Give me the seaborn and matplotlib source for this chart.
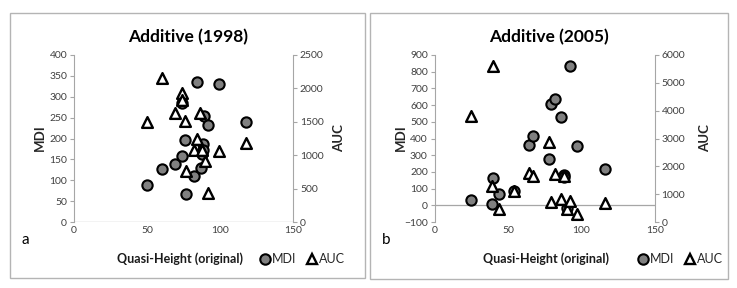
import matplotlib
matplotlib.use("Agg")
import matplotlib.pyplot as plt
import seaborn as sns
import pandas as pd
from matplotlib.patches import Rectangle
from matplotlib.lines import Line2D

# ---- data ----
h98_mdi = [50, 60, 69, 74, 74, 76, 77, 82, 84, 87, 88.5, 88, 88.3, 89, 92, 99, 118]
mdi98 = [88, 126, 138, 158, 284, 196, 68, 110, 336, 130, 186, 164, 172, 254, 232, 330, 240]
h98_auc = [50, 60, 69, 74, 74, 76, 77, 82, 84, 86.5, 88, 90, 92, 99, 118]
auc98 = [1500, 2150, 1626, 1926, 1830, 1515, 760, 1075, 1240, 1626, 1075, 910, 441, 1060, 1185]

h05_mdi = [25, 39, 40, 44, 54, 64, 67, 78, 79, 82, 86, 88, 88.3, 90, 92, 97, 116]
mdi05 = [32, 8, 164, 70, 86, 360, 416, 276, 608, 634, 530, 180, 172, -18, 834, 356, 220]
h05_auc = [25, 39, 40, 44, 54, 64, 67, 78, 79, 82, 86, 88, 90.5, 92, 97, 116]
auc05 = [3820, 1300, 5600, 480, 1100, 1760, 1670, 2870, 720, 1740, 820, 1650, 470, 750, 300, 670]

titles = ["Additive (1998)", "Additive (2005)"]
panel_letters = ["a", "b"]
xlabel = "Quasi-Height (original)"
x_ticks = [0, 50, 100, 150]
mdi_ticks98 = list(range(0, 401, 50))
auc_ticks98 = list(range(0, 2501, 500))
mdi_ticks05 = list(range(-100, 901, 100))
auc_ticks05 = list(range(0, 6001, 1000))

sns.set_style("white")
plt.rcParams['font.family'] = ['Lato', 'DejaVu Sans']

W, H = 737, 288
fig = plt.figure(figsize=(W / 100, H / 100), dpi=100)

def fx(px):
    return px / W

def fy(py):
    return 1 - py / H

TICK_C = "#404040"
SPINE_C = "#a6a6a6"
CIRCLE_C = "#808080"

def style_axes(ax, ax2):
    for a in (ax, ax2):
        for s in a.spines.values():
            s.set_visible(False)
    ax.spines['left'].set_visible(True)
    ax.spines['left'].set_color(SPINE_C)
    ax2.spines['right'].set_visible(True)
    ax2.spines['right'].set_color(SPINE_C)
    ax.tick_params(axis='both', labelsize=7.5, colors=TICK_C, length=3, width=0.8,
                   direction='out', pad=2)
    ax.tick_params(axis='y', color=SPINE_C)
    ax.tick_params(axis='x', length=0, pad=3)
    ax2.tick_params(axis='y', labelsize=7.5, colors=TICK_C, length=3, width=0.8,
                    direction='out', pad=2, color=SPINE_C)
    ax.grid(False)
    ax2.grid(False)

def draw_panel(rect, hm, mv, ha, av, yl, yt, al, at, title, letter, box,
               title_xy, xlab_xy, letter_xy, mdi_xy, auc_xy, leg_xy):
    ax = fig.add_axes(rect)
    ax2 = ax.twinx()
    df_m = pd.DataFrame({"h": hm, "v": mv})
    df_a = pd.DataFrame({"h": ha, "v": av})
    sns.scatterplot(data=df_m, x="h", y="v", ax=ax, marker="o", color=CIRCLE_C,
                    edgecolor="black", linewidth=1.5, s=55, zorder=3, legend=False)
    sns.scatterplot(data=df_a, x="h", y="v", ax=ax2, marker="^", color="white",
                    edgecolor="black", linewidth=1.7, s=60, zorder=3, legend=False)
    ax.set_xlim(0, 150)
    ax.set_xticks(x_ticks)
    ax.set_ylim(yl)
    ax.set_yticks(yt)
    ax2.set_ylim(al)
    ax2.set_yticks(at)
    ax.set_xlabel("")
    ax.set_ylabel("")
    ax2.set_ylabel("")
    ax.axhline(0, color=SPINE_C, lw=0.9, zorder=1)
    style_axes(ax, ax2)
    ax.set_zorder(2)
    ax2.set_zorder(3)
    # panel border
    fig.patches.append(Rectangle((fx(box[0]), fy(box[3])), fx(box[2] - box[0]),
                                 (box[3] - box[1]) / H, transform=fig.transFigure,
                                 fill=False, edgecolor="#b4b4b4", lw=1.0))
    fig.text(fx(title_xy[0]), fy(title_xy[1]), title, ha="center", va="center",
             fontsize=12.5, fontweight="bold", color="black")
    fig.text(fx(xlab_xy[0]), fy(xlab_xy[1]), xlabel, ha="center", va="center",
             fontsize=9, fontweight="bold", color="#1a1a1a")
    fig.text(fx(letter_xy[0]), fy(letter_xy[1]), letter, ha="center", va="center",
             fontsize=11, color="black")
    fig.text(fx(mdi_xy[0]), fy(mdi_xy[1]), "MDI", ha="center", va="center",
             fontsize=9.5, fontweight="bold", rotation=90)
    fig.text(fx(auc_xy[0]), fy(auc_xy[1]), "AUC", ha="center", va="center",
             fontsize=9.5, fontweight="bold", rotation=90)
    handles = [
        Line2D([], [], marker="o", ls="none", markerfacecolor=CIRCLE_C,
               markeredgecolor="black", markeredgewidth=1.5, markersize=7.5),
        Line2D([], [], marker="^", ls="none", markerfacecolor="white",
               markeredgecolor="black", markeredgewidth=1.7, markersize=7.5),
    ]
    fig.legend(handles, ["MDI", "AUC"], loc="center",
               bbox_to_anchor=(fx(leg_xy[0]), fy(leg_xy[1])), ncol=2,
               frameon=False, fontsize=9, handletextpad=0.05,
               columnspacing=0.8, handlelength=1.0, borderpad=0)

draw_panel([fx(74), fy(222), fx(293 - 74), (222 - 55) / H],
           h98_mdi, mdi98, h98_auc, auc98, (0, 400), mdi_ticks98, (0, 2500), auc_ticks98,
           titles[0], panel_letters[0], (10, 13, 365, 278),
           (188, 37), (180, 259), (25, 240), (40, 138), (339, 138), (302, 259))

draw_panel([fx(434.7), fy(222), fx(654.7 - 434.7), (222 - 55) / H],
           h05_mdi, mdi05, h05_auc, auc05, (-100, 900), mdi_ticks05, (0, 6000), auc_ticks05,
           titles[1], panel_letters[1], (370, 13, 728, 279),
           (549, 37), (546, 259), (386, 240), (401, 138), (705, 138), (680, 259))

fig.savefig("out.png", dpi=100)
